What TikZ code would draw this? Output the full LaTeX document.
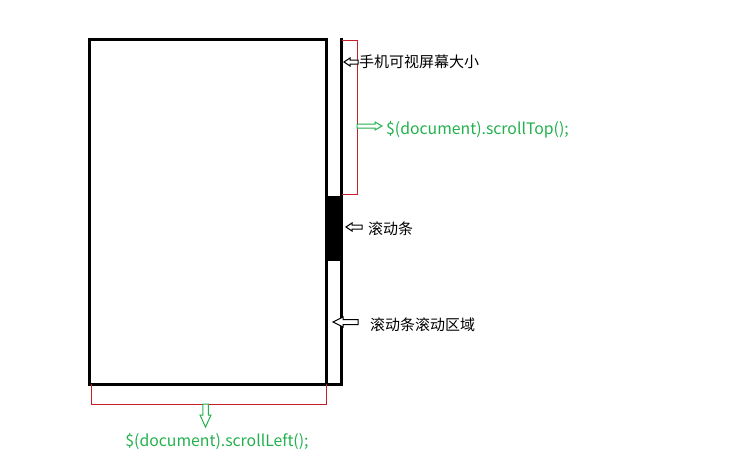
\documentclass[tikz,border=0pt]{standalone}
\usepackage{fontspec}
\setmainfont{Noto Sans CJK SC}
\definecolor{pgreen}{RGB}{34,177,76}
\definecolor{pred}{RGB}{200,30,40}
\begin{document}
\begin{tikzpicture}[x=1pt,y=-1pt,
  frame/.style={line width=3pt,draw=black},
  brace/.style={draw=pred,line width=1pt},
  cnlabel/.style={anchor=west,inner sep=0pt,font=\fontsize{15}{15}\selectfont,text=black},
  codelabel/.style={anchor=west,inner sep=0pt,font=\fontsize{15.8}{16}\selectfont,text=pgreen},
  hollowarrow/.style={draw,fill=white,line width=1pt,line join=miter},
]
\useasboundingbox (0,0) rectangle (737,474);
% page frame and scrollbar
\draw[frame] (89,39) rectangle (326,384);
\draw[frame] (341.5,37.5) -- (341.5,384) -- (326,384);
\fill[black] (326,196) rectangle (341.5,261);
% red brackets
\draw[brace] (342,40) -- (357.5,40) -- (357.5,194) -- (342,194);
\draw[brace] (91,384) -- (91,404) -- (326.5,404) -- (326.5,384);
% texts
\node[cnlabel] (screen) at (359,62) {手机可视屏幕大小};
\node[cnlabel] (bar) at (368,229) {滚动条};
\node[cnlabel] (area) at (370,325) {滚动条滚动区域};
\node[codelabel] (top) at (386,130) {\$(document).scrollTop();};
\node[codelabel,anchor=center] (left) at (217,441) {\$(document).scrollLeft();};
% arrows
\coordinate (t1) at (344,62);
\coordinate (t2) at (346,227);
\coordinate (t3) at (333,322);
\coordinate (t4) at (382,126);
\coordinate (t5) at (205.5,427);
\draw[hollowarrow,draw=black] (t1) -- ++(6,-4) -- ++(0,2) -- ++(8,0) -- ++(0,4) -- ++(-8,0) -- ++(0,2) -- cycle;
\draw[hollowarrow,draw=black] (t2) -- ++(6,-4) -- ++(0,2) -- ++(10,0) -- ++(0,4) -- ++(-10,0) -- ++(0,2) -- cycle;
\draw[hollowarrow,draw=black] (t3) -- ++(10,-5) -- ++(0,2.5) -- ++(15,0) -- ++(0,5) -- ++(-15,0) -- ++(0,2.5) -- cycle;
\draw[hollowarrow,draw=pgreen] (t4) -- ++(-7,-4) -- ++(0,2) -- ++(-18,0) -- ++(0,4) -- ++(18,0) -- ++(0,2) -- cycle;
\draw[hollowarrow,draw=pgreen] (t5) -- ++(-5.5,-12) -- ++(2.75,0) -- ++(0,-11) -- ++(5.5,0) -- ++(0,11) -- ++(2.75,0) -- cycle;
\end{tikzpicture}
\end{document}
